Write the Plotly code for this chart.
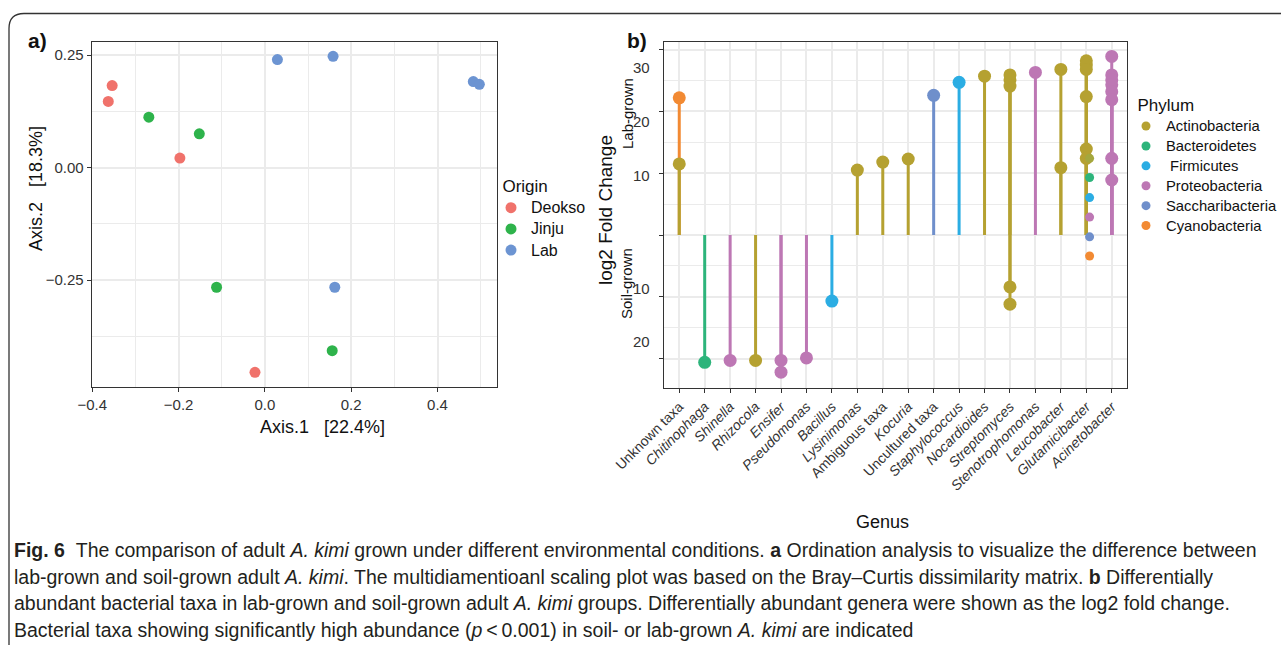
import plotly.graph_objects as go

W, H = 1281, 645

# ---------------- Panel a data (MDS ordination) ----------------
origins = ["Deokso", "Jinju", "Lab"]
deokso_x = [-0.354, -0.363, -0.197, -0.023]
deokso_y = [0.182, 0.147, 0.021, -0.455]
jinju_x = [-0.269, -0.152, -0.112, 0.156]
jinju_y = [0.112, 0.075, -0.266, -0.407]
lab_x = [0.029, 0.158, 0.162, 0.483, 0.497]
lab_y = [0.240, 0.247, -0.266, 0.191, 0.185]
origin_colors = ["#F0726B", "#2EB34B", "#6C94D2"]

# ---------------- Panel b data (log2 fold change) ----------------
genera = ["Unknown taxa", "Chitinophaga", "Shinella", "Rhizocola", "Ensifer",
          "Pseudomonas", "Bacillus", "Lysinimonas", "Ambiguous taxa", "Kocuria",
          "Uncultured taxa", "Staphylococcus", "Nocardioides", "Streptomyces",
          "Stenotrophomonas", "Leucobacter", "Glutamicibacter", "Acinetobacter"]
italic_genus = [False, True, True, True, True, True, True, True, False, True,
                False, True, True, True, True, True, True, True]

phyla = ["Actinobacteria", "Bacteroidetes", "Firmicutes", "Proteobacteria",
         "Saccharibacteria", "Cyanobacteria"]
phylum_labels = ["Actinobacteria", "Bacteroidetes", "\u00a0Firmicutes", "Proteobacteria",
                 "Saccharibacteria", "Cyanobacteria"]
phylum_colors = ["#B5A131", "#2DB47B", "#2BADE3", "#BD77B4", "#6F8FCB", "#F28A33"]

point_genus = ["Unknown taxa", "Unknown taxa",
               "Chitinophaga", "Shinella", "Rhizocola", "Ensifer", "Ensifer",
               "Pseudomonas", "Bacillus", "Lysinimonas", "Ambiguous taxa", "Kocuria",
               "Uncultured taxa", "Staphylococcus", "Nocardioides",
               "Streptomyces", "Streptomyces", "Streptomyces", "Streptomyces", "Streptomyces",
               "Stenotrophomonas", "Leucobacter", "Leucobacter",
               "Glutamicibacter", "Glutamicibacter", "Glutamicibacter", "Glutamicibacter",
               "Glutamicibacter", "Glutamicibacter",
               "Acinetobacter", "Acinetobacter", "Acinetobacter", "Acinetobacter",
               "Acinetobacter", "Acinetobacter", "Acinetobacter", "Acinetobacter"]
point_value = [22.2, 11.5,
               -20.6, -20.3, -20.3, -20.3, -22.2,
               -19.9, -10.7, 10.5, 11.8, 12.3,
               22.6, 24.7, 25.7,
               25.9, 25.1, 24.1, -8.4, -11.2,
               26.3, 26.8, 10.9,
               28.2, 27.5, 26.8, 22.4, 13.9, 12.4,
               28.9, 25.9, 25.1, 24.3, 23.2, 21.9, 12.4, 8.9]
point_phylum = ["Cyanobacteria", "Actinobacteria",
                "Bacteroidetes", "Proteobacteria", "Actinobacteria", "Proteobacteria", "Proteobacteria",
                "Proteobacteria", "Firmicutes", "Actinobacteria", "Actinobacteria", "Actinobacteria",
                "Saccharibacteria", "Firmicutes", "Actinobacteria",
                "Actinobacteria", "Actinobacteria", "Actinobacteria", "Actinobacteria", "Actinobacteria",
                "Proteobacteria", "Actinobacteria", "Actinobacteria",
                "Actinobacteria", "Actinobacteria", "Actinobacteria", "Actinobacteria",
                "Actinobacteria", "Actinobacteria",
                "Proteobacteria", "Proteobacteria", "Proteobacteria", "Proteobacteria",
                "Proteobacteria", "Proteobacteria", "Proteobacteria", "Proteobacteria"]

# stray small key dots drawn next to Glutamicibacter in the original
key_dot_genus = "Glutamicibacter"
key_dot_values = [12.4, 9.3, 6.05, 2.9, -0.3, -3.4]
key_dot_colors = ["#A4A73D", "#2DB47B", "#2BADE3", "#BD77B4", "#6F8FCB", "#F28A33"]

ytick_b_text = ["30", "20", "10", "10", "20"]
ytick_b_at = [27.1, 18.3, 9.6, -8.6, -17.3]

FONT = "Liberation Sans, Arial, sans-serif"
GRID = "#EBEBEB"
AX = "#333333"


def px_x(p):
    return p / W


def px_y(p):
    return 1 - p / H


def big(text, size):
    return '<span style="font-size:%spx">%s</span>' % (size, text)


fig = go.Figure()

# ---- panel a traces ----
for name, xs, ys, col in zip(origins, [deokso_x, jinju_x, lab_x],
                             [deokso_y, jinju_y, lab_y], origin_colors):
    fig.add_trace(go.Scatter(x=xs, y=ys, mode="markers", name=big(name, 16),
                             marker=dict(color=col, size=11, line=dict(width=0)),
                             xaxis="x", yaxis="y", legend="legend"))

# ---- panel b traces ----
gidx = {g: i for i, g in enumerate(genera)}
line_order = ["Cyanobacteria", "Saccharibacteria", "Firmicutes", "Bacteroidetes",
              "Proteobacteria", "Actinobacteria"]
for ph in line_order:
    col = phylum_colors[phyla.index(ph)]
    xs, ys = [], []
    for g, v, p in zip(point_genus, point_value, point_phylum):
        if p == ph:
            xs += [gidx[g], gidx[g], None]
            ys += [0, v, None]
    fig.add_trace(go.Scatter(x=xs, y=ys, mode="lines", line=dict(color=col, width=3),
                             showlegend=False, hoverinfo="skip",
                             xaxis="x2", yaxis="y2"))

for ph in line_order:
    col = phylum_colors[phyla.index(ph)]
    xs = [gidx[g] for g, p in zip(point_genus, point_phylum) if p == ph]
    ys = [v for v, p in zip(point_value, point_phylum) if p == ph]
    fig.add_trace(go.Scatter(x=xs, y=ys, mode="markers",
                             marker=dict(color=col, size=13, line=dict(width=0)),
                             showlegend=False, xaxis="x2", yaxis="y2"))

# key dots
fig.add_trace(go.Scatter(x=[gidx[key_dot_genus] + 0.13] * len(key_dot_values),
                         y=key_dot_values, mode="markers",
                         marker=dict(color=key_dot_colors, size=9, line=dict(width=0)),
                         showlegend=False, xaxis="x2", yaxis="y2"))

# legend entries for phylum
for ph, lab, col in zip(phyla, phylum_labels, phylum_colors):
    fig.add_trace(go.Scatter(x=[None], y=[None], mode="markers", name=big(lab, 14.8),
                             marker=dict(color=col, size=9),
                             xaxis="x2", yaxis="y2", legend="legend2"))

# ---- axes ----
a_dom_x = [px_x(91.7), px_x(497.3)]
a_dom_y = [px_y(386.7), px_y(41.7)]
b_dom_x = [px_x(664.0), px_x(1127.0)]
b_dom_y = [px_y(388.0), px_y(41.7)]

common = dict(showline=True, linecolor=AX, linewidth=1.2, mirror=True, zeroline=False,
              ticks="outside", ticklen=4, tickcolor=AX, tickwidth=1,
              gridcolor=GRID, gridwidth=1.6, automargin=False)

fig.update_layout(
    xaxis=dict(domain=a_dom_x, anchor="y", range=[-0.4014, 0.5386],
               tickvals=[-0.4, -0.2, 0.0, 0.2, 0.4], tickformat=".1f",
               tickfont=dict(size=15, color=AX, family=FONT),
               minor=dict(tickvals=[-0.3, -0.1, 0.1, 0.3, 0.5], showgrid=True,
                          gridcolor=GRID, gridwidth=0.9, ticks=""),
               **common),
    yaxis=dict(domain=a_dom_y, anchor="x", range=[-0.487, 0.2796],
               tickvals=[-0.25, 0.0, 0.25], tickformat=".2f",
               tickfont=dict(size=15, color=AX, family=FONT),
               minor=dict(tickvals=[-0.375, -0.125, 0.125], showgrid=True,
                          gridcolor=GRID, gridwidth=0.9, ticks=""),
               **common),
    xaxis2=dict(domain=b_dom_x, anchor="y2", range=[-0.6, 17.6],
                tickvals=list(range(len(genera))),
                ticktext=[("<i>%s</i>" % g) if it else g for g, it in zip(genera, italic_genus)],
                tickangle=-45, tickfont=dict(size=14, color=AX, family=FONT),
                **common),
    yaxis2=dict(domain=b_dom_y, anchor="x2", range=[-24.76, 31.28],
                tickvals=[-20, -10, 0, 10, 20, 30], showticklabels=False,
                minor=dict(tickvals=[-15, -5, 5, 15, 25], showgrid=True,
                           gridcolor=GRID, gridwidth=0.9, ticks=""),
                **common),
)

fig.update_layout(
    width=W, height=H, margin=dict(l=0, r=0, t=0, b=0, autoexpand=False),
    paper_bgcolor="white", plot_bgcolor="white",
    font=dict(family=FONT, color="#111111"),
    legend=dict(title=dict(text="\u00a0\u00a0Origin", font=dict(size=17, color="#111")),
                font=dict(size=14, color="#111"), x=px_x(491), y=px_y(170),
                xanchor="left", yanchor="top", bgcolor="rgba(0,0,0,0)",
                tracegroupgap=0, itemclick=False),
    legend2=dict(title=dict(text="\u00a0\u00a0Phylum", font=dict(size=17, color="#111")),
                 font=dict(size=13, color="#111"), x=px_x(1126), y=px_y(89),
                 xanchor="left", yanchor="top", bgcolor="rgba(0,0,0,0)",
                 tracegroupgap=0, itemclick=False),
    showlegend=True,
)

ann = []
# panel labels
ann.append(dict(text="<b>a)</b>", x=px_x(37), y=px_y(40), font=dict(size=21, color="#111")))
ann.append(dict(text="<b>b)</b>", x=px_x(637), y=px_y(40), font=dict(size=21, color="#111")))
# panel a axis titles
ann.append(dict(text="Axis.1\u00a0\u00a0\u00a0[22.4%]", x=px_x(322), y=px_y(427),
                font=dict(size=18, color="#111")))
ann.append(dict(text="Axis.2\u00a0\u00a0\u00a0[18.3%]", x=px_x(36), y=px_y(189),
                textangle=-90, font=dict(size=18, color="#111")))
# panel b axis titles
ann.append(dict(text="log2 Fold Change", x=px_x(605), y=px_y(210), textangle=-90,
                font=dict(size=19, color="#111")))
ann.append(dict(text="Lab-grown", x=px_x(627), y=px_y(114), textangle=-90,
                font=dict(size=15, color="#111")))
ann.append(dict(text="Soil-grown", x=px_x(627), y=px_y(284), textangle=-90,
                font=dict(size=15, color="#111")))
ann.append(dict(text="Genus", x=px_x(882), y=px_y(522), font=dict(size=18, color="#111")))
for t, v in zip(ytick_b_text, ytick_b_at):
    ann.append(dict(text=t, xref="paper", yref="y2", x=px_x(652), y=v,
                    xanchor="right", font=dict(size=15, color=AX)))

caption = [
    "<b>Fig. 6</b>\u00a0\u00a0The comparison of adult <i>A. kimi</i> grown under different environmental conditions. <b>a</b> Ordination analysis to visualize the difference between",
    "lab-grown and soil-grown adult <i>A. kimi</i>. The multidiamentioanl scaling plot was based on the Bray–Curtis dissimilarity matrix. <b>b</b> Differentially",
    "abundant bacterial taxa in lab-grown and soil-grown adult <i>A. kimi</i> groups. Differentially abundant genera were shown as the log2 fold change.",
    "Bacterial taxa showing significantly high abundance (<i>p</i>\u2009<\u20090.001) in soil- or lab-grown <i>A. kimi</i> are indicated",
]
cap_y = [550, 577, 603, 630]
for t, yy in zip(caption, cap_y):
    ann.append(dict(text=t, x=px_x(12), y=px_y(yy), xanchor="left",
                    font=dict(size=19.5, color="#231F20",
                              family="Liberation Sans Narrow, Arial Narrow, sans-serif")))

for a in ann:
    a.setdefault("xref", "paper")
    a.setdefault("yref", "paper")
    a.setdefault("xanchor", "center")
    a.setdefault("yanchor", "middle")
    a["showarrow"] = False
fig.update_layout(annotations=ann)

# rounded figure frame
x0, xc = px_x(9), px_x(24)
yt, yc = px_y(13.5), px_y(28.5)
fig.add_shape(type="path", xref="paper", yref="paper",
              path=f"M {x0},-0.02 L {x0},{yc} Q {x0},{yt} {xc},{yt} L 1.02,{yt}",
              line=dict(color="#333333", width=1.3))

fig.write_html("out.html")
